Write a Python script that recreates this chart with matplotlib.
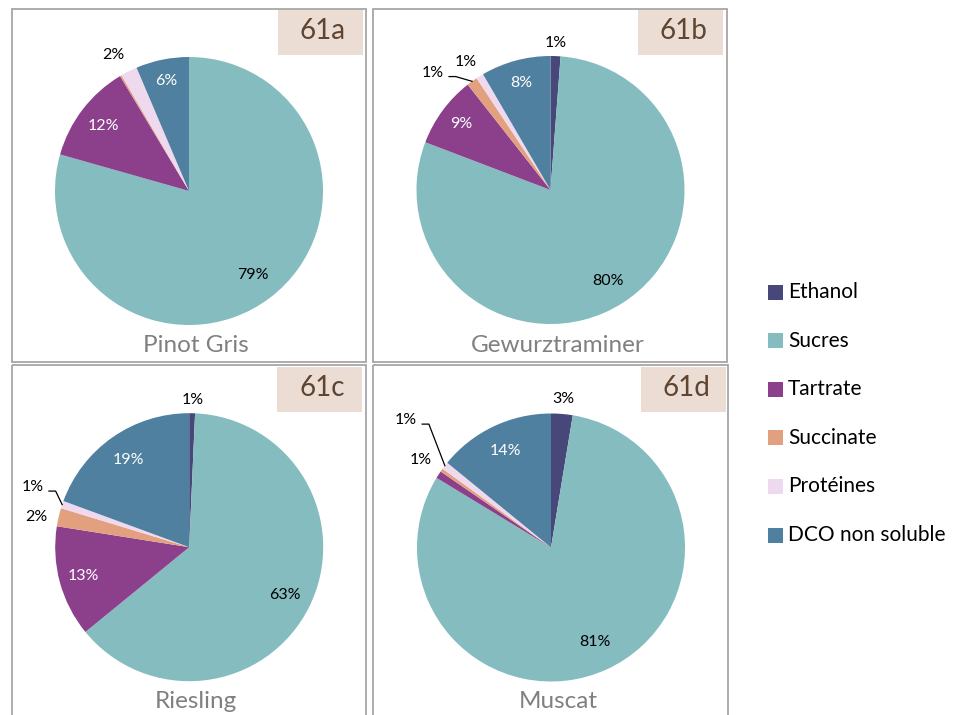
import numpy as np
import matplotlib.pyplot as plt
from matplotlib.patches import Rectangle

plt.rcParams['font.family'] = ['Lato', 'DejaVu Sans']

W, H = 954, 715

components = ['Ethanol', 'Sucres', 'Tartrate', 'Succinate', 'Protéines', 'DCO non soluble']
colors = ['#48477a', '#84bcc0', '#8c408c', '#e2a07e', '#eed9ee', '#4f80a0']
inside_color = ['black', 'black', 'white', 'black', 'black', 'white']

cepages = ['Pinot Gris', 'Gewurztraminer', 'Riesling', 'Muscat']
codes = ['61a', '61b', '61c', '61d']

# composition (%) in the order of components
pinot_gris = [0.0, 79.4, 12.0, 0.2, 2.0, 6.4]
gewurztraminer = [1.2, 79.6, 8.6, 1.3, 0.9, 8.4]
riesling = [0.7, 63.4, 13.4, 2.2, 0.9, 19.4]
muscat = [2.6, 81.1, 0.9, 0.4, 0.9, 14.1]
series = [pinot_gris, gewurztraminer, riesling, muscat]

# label placement: (radial distance, angle shift in deg, leader line) or None
label_layout = [
    [None, (0.79, 0, False), (0.80, 0, False), None, (1.16, -2.6, False), (0.84, 0, False)],
    [(1.10, 0, False), (0.80, 0, False), (0.83, 0, False), (1.24, -9.2, True),
     (1.15, -1.7, False), (0.83, 0, False)],
    [(1.10, 0, False), (0.80, 0, False), (0.82, 0, False), (1.16, -1.7, False),
     (1.25, 2.5, True), (0.79, 0, False)],
    [(1.11, 0, False), (0.78, 0, False), (1.17, 0.8, False), None,
     (1.44, 3.7, True), (0.80, 0, False)],
]

# panel geometry in pixels
panels = [(12, 9, 366, 362), (373, 9, 727, 362), (12, 365, 366, 730), (373, 365, 728, 730)]
centers = [(189, 191), (550.5, 190), (189.2, 547.2), (551, 547.5)]
radius = 134
code_boxes = [(278, 10), (638, 10), (277, 367), (641, 367)]
name_y = [345, 345, 702, 702]

fig = plt.figure(figsize=(W / 100, H / 100), dpi=100)
bg = fig.add_axes([0, 0, 1, 1])
bg.set_xlim(0, W)
bg.set_ylim(H, 0)
bg.axis('off')

for i in range(4):
    x0, y0, x1, y1 = panels[i]
    bg.add_patch(Rectangle((x0, y0), x1 - x0, y1 - y0, fill=False,
                           edgecolor='#a6a6a6', linewidth=1.3))
    bx, by = code_boxes[i]
    bg.add_patch(Rectangle((bx, by), 85, 45, facecolor='#ebddd3', edgecolor='none'))
    bg.text(bx + 45, by + 21, codes[i], fontsize=20, color='#5e4431',
            ha='center', va='center')
    bg.text(centers[i][0] + 7, name_y[i], cepages[i], fontsize=17.5, color='#808080',
            ha='center', va='center')

    # pie axes: square box spanning 1.5 radii each side of the centre
    cx, cy = centers[i]
    R = radius * 1.5
    ax = fig.add_axes([(cx - R) / W, 1 - (cy + R) / H, 2 * R / W, 2 * R / H])
    vals = series[i]
    ax.pie(vals, colors=colors, startangle=90, counterclock=False, radius=1,
           wedgeprops=dict(linewidth=0))
    ax.set_xlim(-1.5, 1.5)
    ax.set_ylim(-1.5, 1.5)
    ax.set_aspect('equal')
    ax.axis('off')

    total = sum(vals)
    cum = 0.0
    for j, v in enumerate(vals):
        mid = (cum + v / 2) / total * 360
        cum += v
        lay = label_layout[i][j]
        if lay is None:
            continue
        d, shift, leader = lay
        th = np.radians(mid + shift)
        lx, ly = d * np.sin(th), d * np.cos(th)
        col = inside_color[j] if d < 1 else 'black'
        ax.text(lx, ly, f"{int(v / total * 100 + 0.5)}%", fontsize=11.5, color=col,
                ha='center', va='center')
        if leader:
            tm = np.radians(mid)
            ax.plot([lx + 0.12, lx + 0.17, np.sin(tm)], [ly - 0.03, ly - 0.03, np.cos(tm)],
                    color='black', linewidth=0.9)

# legend
for k, name in enumerate(components):
    y = 292 + k * 48.6
    bg.add_patch(Rectangle((768, y - 7.5), 15, 15, facecolor=colors[k], edgecolor='none'))
    bg.text(788, y, name, fontsize=15, color='black', ha='left', va='center')

fig.savefig('out.png', dpi=100)
